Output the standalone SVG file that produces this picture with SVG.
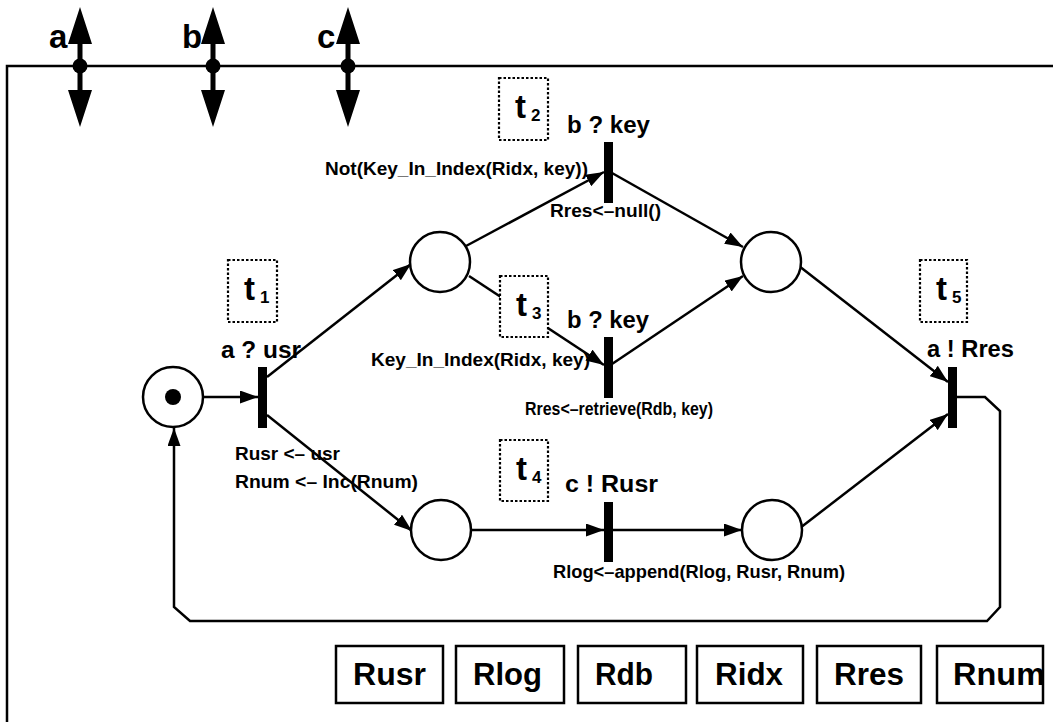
<svg xmlns="http://www.w3.org/2000/svg" width="1053" height="722" viewBox="0 0 1053 722">
<defs>
<style>
text{font-family:"Liberation Sans",Arial,sans-serif;font-weight:bold;fill:#000}
.frame{fill:none;stroke:#000;stroke-width:2.5}
.arc{fill:none;stroke:#000;stroke-width:2.5;marker-end:url(#ah)}
.place{fill:#fff;stroke:#000;stroke-width:2.5}
.bar{fill:#000}
.tbox{fill:#fff;stroke:#000;stroke-width:2.2;stroke-dasharray:2.5 2}
.reg{fill:#fff;stroke:#000;stroke-width:2.5}
.big{font-size:23px}
.small{font-size:19px}
.tl{font-size:33px}
.ts{font-size:17px}
.port{font-size:33px}
.regt{font-size:32px}
</style>
<marker id="ah" markerUnits="userSpaceOnUse" markerWidth="19" markerHeight="13" refX="18" refY="6.5" orient="auto">
<path d="M0,0 L18,6.5 L0,13 z" fill="#000"/>
</marker>
</defs>
<rect width="1053" height="722" fill="#fff"/>
<path class="frame" d="M7,722 V66 H1053"/>

<g id="port-a">
<rect x="77.5" y="38" width="5" height="56" fill="#000"/>
<path d="M80,7 L92,44 L68,44 z M80,127 L92,90 L68,90 z" fill="#000"/>
<circle cx="80" cy="66" r="7.5" fill="#000"/>
<text class="port" x="49" y="48">a</text>
</g>
<g id="port-b">
<rect x="210.5" y="38" width="5" height="56" fill="#000"/>
<path d="M213,7 L225,44 L201,44 z M213,127 L225,90 L201,90 z" fill="#000"/>
<circle cx="213" cy="66" r="7.5" fill="#000"/>
<text class="port" x="182" y="48">b</text>
</g>
<g id="port-c">
<rect x="345.5" y="38" width="5" height="56" fill="#000"/>
<path d="M348,7 L360,44 L336,44 z M348,127 L360,90 L336,90 z" fill="#000"/>
<circle cx="348" cy="66" r="7.5" fill="#000"/>
<text class="port" x="317" y="48">c</text>
</g>

<g id="connectors">
<path class="arc" d="M202,397 L258,397"/>
<path class="arc" d="M267,377 L411,264"/>
<path class="arc" d="M267,415 L412,531"/>
<path class="arc" d="M466,246 L604,172"/>
<path class="arc" d="M612,173 L743,247"/>
<path class="arc" d="M469,276 L604,365"/>
<path class="arc" d="M612,364 L743,276"/>
<path class="arc" d="M470,530 L604,530"/>
<path class="arc" d="M612,530 L742,530"/>
<path class="arc" d="M799,266 L948,382"/>
<path class="arc" d="M800,528 L948,414"/>
<path class="arc" d="M957,397 L985,397 L1000,411 L1000,607 L987,621 L190,621 L174,607 L174,428"/>
</g>

<g id="p0"><circle class="place" cx="173" cy="397" r="30"/><circle cx="173" cy="397" r="8" fill="#000"/></g>
<g id="p1"><circle class="place" cx="440" cy="262" r="30"/></g>
<g id="p2"><circle class="place" cx="441" cy="530" r="30"/></g>
<g id="p3"><circle class="place" cx="771" cy="262" r="30"/></g>
<g id="p4"><circle class="place" cx="772" cy="530" r="30"/></g>

<g id="t1">
<rect class="bar" x="258" y="367" width="9" height="61"/>
<rect class="tbox" x="228" y="260" width="49" height="62"/>
<text class="tl" x="244" y="300">t</text><text class="ts" x="260" y="303">1</text>
<text class="big" x="221" y="358" textLength="80" lengthAdjust="spacingAndGlyphs">a ? usr</text>
<text class="small" x="235" y="460" textLength="105" lengthAdjust="spacingAndGlyphs">Rusr &lt;– usr</text>
<text class="small" x="235" y="488" textLength="183" lengthAdjust="spacingAndGlyphs">Rnum &lt;– Inc(Rnum)</text>
</g>
<g id="t2">
<rect class="bar" x="604" y="142" width="9" height="61"/>
<rect class="tbox" x="499" y="78" width="49" height="62"/>
<text class="tl" x="515" y="118">t</text><text class="ts" x="531" y="121">2</text>
<text class="big" x="567" y="133" textLength="83" lengthAdjust="spacingAndGlyphs">b ? key</text>
<text class="small" x="325" y="175" textLength="263" lengthAdjust="spacingAndGlyphs">Not(Key_In_Index(Ridx, key))</text>
<text class="small" x="550" y="217" textLength="111" lengthAdjust="spacingAndGlyphs">Rres&lt;–null()</text>
</g>
<g id="t3">
<rect class="bar" x="604" y="337" width="9" height="61"/>
<rect class="tbox" x="500" y="276" width="48" height="61"/>
<text class="tl" x="516" y="316">t</text><text class="ts" x="532" y="319">3</text>
<text class="big" x="567" y="328" textLength="82" lengthAdjust="spacingAndGlyphs">b ? key</text>
<text class="small" x="371" y="366" textLength="219" lengthAdjust="spacingAndGlyphs">Key_In_Index(Ridx, key)</text>
<text class="small" x="525" y="415" textLength="188" lengthAdjust="spacingAndGlyphs">Rres&lt;–retrieve(Rdb, key)</text>
</g>
<g id="t4">
<rect class="bar" x="604" y="502" width="9" height="60"/>
<rect class="tbox" x="500" y="440" width="48" height="61"/>
<text class="tl" x="516" y="480">t</text><text class="ts" x="532" y="483">4</text>
<text class="big" x="565" y="492" textLength="93" lengthAdjust="spacingAndGlyphs">c ! Rusr</text>
<text class="small" x="553" y="578" textLength="292" lengthAdjust="spacingAndGlyphs">Rlog&lt;–append(Rlog, Rusr, Rnum)</text>
</g>
<g id="t5">
<rect class="bar" x="948" y="367" width="9" height="61"/>
<rect class="tbox" x="920" y="260" width="47" height="62"/>
<text class="tl" x="936" y="300">t</text><text class="ts" x="952" y="303">5</text>
<text class="big" x="927" y="357" textLength="87" lengthAdjust="spacingAndGlyphs">a ! Rres</text>
</g>

<g id="r-usr"><rect class="reg" x="336" y="646" width="107" height="57"/><text class="regt" x="353" y="685" textLength="73" lengthAdjust="spacingAndGlyphs">Rusr</text></g>
<g id="r-log"><rect class="reg" x="456" y="646" width="108" height="57"/><text class="regt" x="473" y="685" textLength="69" lengthAdjust="spacingAndGlyphs">Rlog</text></g>
<g id="r-db"><rect class="reg" x="578" y="646" width="108" height="57"/><text class="regt" x="595" y="685" textLength="58" lengthAdjust="spacingAndGlyphs">Rdb</text></g>
<g id="r-idx"><rect class="reg" x="697" y="646" width="106" height="57"/><text class="regt" x="715" y="685" textLength="68" lengthAdjust="spacingAndGlyphs">Ridx</text></g>
<g id="r-res"><rect class="reg" x="817" y="646" width="104" height="57"/><text class="regt" x="834" y="685" textLength="70" lengthAdjust="spacingAndGlyphs">Rres</text></g>
<g id="r-num"><rect class="reg" x="937" y="646" width="106" height="57"/><text class="regt" x="953" y="685" textLength="92" lengthAdjust="spacingAndGlyphs">Rnum</text></g>
</svg>
